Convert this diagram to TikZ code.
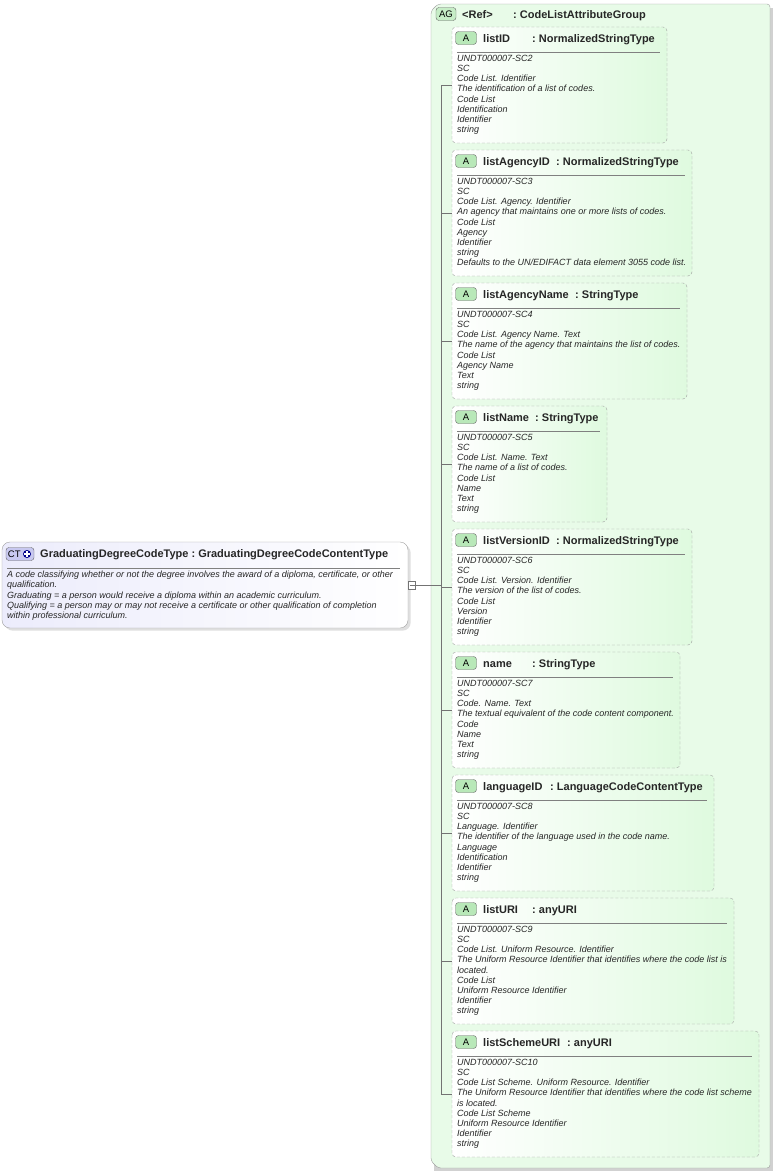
\documentclass[tikz,border=0pt]{standalone}
\usepackage{fontspec}
\setmainfont{Liberation Sans}
\usetikzlibrary{shadows}
\definecolor{grpfill}{HTML}{E8FBE8}
\definecolor{grpline}{HTML}{A0A0A0}
\definecolor{attrgreen}{HTML}{DFFADF}
\definecolor{ctfill}{HTML}{E4E4FA}
\definecolor{badgeG}{HTML}{B8E8B8}
\definecolor{badgeB}{HTML}{C8C8F0}
\tikzset{
  grp/.style={draw=grpline, fill=grpfill, rounded corners=3pt},
  attrbox/.style={draw=grpline, dash pattern=on 3pt off 2pt, rounded corners=4pt, left color=white, right color=attrgreen},
  ctbox/.style={draw=grpline, rounded corners=8pt, left color=ctfill!70, right color=white, drop shadow={opacity=0.25}},
  badge/.style={draw=black!60, rounded corners=3pt, inner sep=1pt, font=\fontsize{9.5}{10}\selectfont, minimum height=13pt},
  ttl/.style={anchor=base west, inner sep=0pt, font=\bfseries\fontsize{11}{12}\selectfont, text=black!85},
  desc/.style={anchor=north west, inner sep=0pt, align=left, font=\itshape\fontsize{9}{10.15}\selectfont, text=black!85},
  tree/.style={draw=black!55, line width=0.5pt}
}
\newcommand{\attrb}[8]{% id, top, right, bottom, name, typex, type, lines
  \draw[attrbox] (452,#2) rectangle (#3,#4);
  \node[badge, fill=badgeG, minimum width=21pt] (#1b) at (466,#2+11) {A};
  \node[ttl] (#1n) at (483,#2+15) {#5};
  \node[ttl] (#1t) at (#6,#2+15) {:~#7};
  \draw[black!50] (457,#2+25) -- (#3-7,#2+25);
  \node[desc] (#1d) at (457,#2+28) {#8};
  \coordinate (#1c) at (452,{(#2+#4)/2});
}
\begin{document}
\begin{tikzpicture}[x=1pt,y=-1pt]
\useasboundingbox (0,0) rectangle (774,1173);
% group
\fill[black!18] (434,8) -- (773,8) -- (773,1171) -- (434,1171) -- cycle;
\draw[grp] (438,4) -- (770,4) -- (770,1168) -- (438,1168) -- (431,1161) -- (431,11) -- cycle;
\node[badge, fill=badgeG!80, minimum width=20pt] (agb) at (446,14) {AG};
\node[ttl] (agn) at (462,18) {<Ref>};
\node[ttl] (agt) at (513,18) {:~CodeListAttributeGroup};
\attrb{a1}{27}{667}{143}{listID}{532}{NormalizedStringType}{UNDT000007-SC2\\SC\\Code List. Identifier\\The identification of a list of codes.\\Code List\\Identification\\Identifier\\string}
\attrb{a2}{150}{692}{276}{listAgencyID}{556}{NormalizedStringType}{UNDT000007-SC3\\SC\\Code List. Agency. Identifier\\An agency that maintains one or more lists of codes.\\Code List\\Agency\\Identifier\\string\\Defaults to the UN/EDIFACT data element 3055 code list.}
\attrb{a3}{283}{687}{399}{listAgencyName}{575}{StringType}{UNDT000007-SC4\\SC\\Code List. Agency Name. Text\\The name of the agency that maintains the list of codes.\\Code List\\Agency Name\\Text\\string}
\attrb{a4}{406}{607}{522}{listName}{535}{StringType}{UNDT000007-SC5\\SC\\Code List. Name. Text\\The name of a list of codes.\\Code List\\Name\\Text\\string}
\attrb{a5}{529}{692}{645}{listVersionID}{556}{NormalizedStringType}{UNDT000007-SC6\\SC\\Code List. Version. Identifier\\The version of the list of codes.\\Code List\\Version\\Identifier\\string}
\attrb{a6}{652}{680}{768}{name}{532}{StringType}{UNDT000007-SC7\\SC\\Code. Name. Text\\The textual equivalent of the code content component.\\Code\\Name\\Text\\string}
\attrb{a7}{775}{714}{891}{languageID}{550}{LanguageCodeContentType}{UNDT000007-SC8\\SC\\Language. Identifier\\The identifier of the language used in the code name.\\Language\\Identification\\Identifier\\string}
\attrb{a8}{898}{734}{1024}{listURI}{532}{anyURI}{UNDT000007-SC9\\SC\\Code List. Uniform Resource. Identifier\\The Uniform Resource Identifier that identifies where the code list is\\located.\\Code List\\Uniform Resource Identifier\\Identifier\\string}
\attrb{a9}{1031}{759}{1157}{listSchemeURI}{567}{anyURI}{UNDT000007-SC10\\SC\\Code List Scheme. Uniform Resource. Identifier\\The Uniform Resource Identifier that identifies where the code list scheme\\is located.\\Code List Scheme\\Uniform Resource Identifier\\Identifier\\string}
% tree
\coordinate (tv) at (441,585);
\draw[tree] (tv|-a1c) -- (tv|-a9c);
\foreach \i in {1,...,9} \draw[tree] (tv|-a\i c) -- (a\i c);
% complex type
\draw[ctbox] (2,542) rectangle (408,628);
\node[badge, fill=badgeB, minimum width=28pt, text width=24pt, align=left] (ctb) at (20,554) {CT};
\fill[blue!55!black] (ctb.center)++(7,0) circle (4pt);
\draw[white, line width=1.1pt] (ctb.center)++(4.3,0) -- ++(5.4,0) (ctb.center)++(7,-2.7) -- ++(0,5.4);
\node[ttl] (ctn) at (40,557) {GraduatingDegreeCodeType~:~GraduatingDegreeCodeContentType};
\draw[black!50] (7,568) -- (400,568);
\node[desc] (ctd) at (7,571) {A code classifying whether or not the degree involves the award of a diploma, certificate, or other\\qualification.\\Graduating = a person would receive a diploma within an academic curriculum.\\Qualifying = a person may or may not receive a certificate or other qualification of completion\\within professional curriculum.};
\node[draw=black!55, fill=white, minimum width=7pt, minimum height=8pt, inner sep=0pt] (ctx) at (412,585) {};
\draw[black!55] (409.5,585) -- (414.5,585);
\draw[tree] (ctx.east) -- (tv);
\end{tikzpicture}
\end{document}
